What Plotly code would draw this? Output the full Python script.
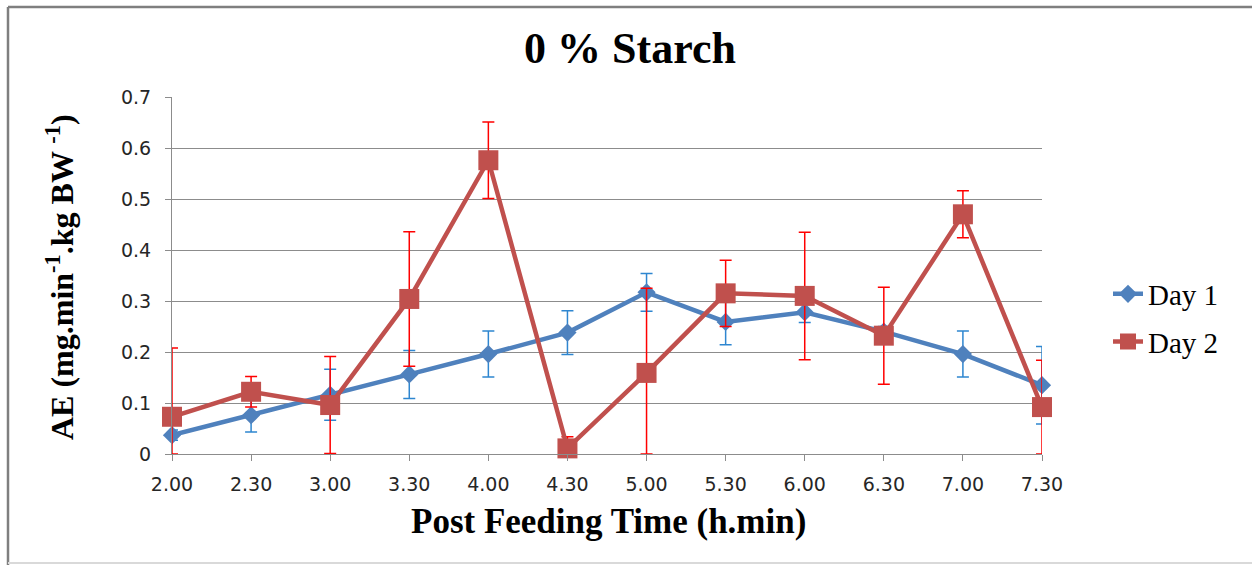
import plotly.graph_objects as go

categories = ["2.00", "2.30", "3.00", "3.30", "4.00", "4.30", "5.00", "5.30", "6.00", "6.30", "7.00", "7.30"]
day1 = [0.037, 0.076, 0.116, 0.156, 0.196, 0.238, 0.317, 0.259, 0.278, 0.240, 0.196, 0.135]
day1_err = [0.010, 0.033, 0.050, 0.047, 0.045, 0.043, 0.037, 0.045, 0.020, 0.010, 0.045, 0.076]
day2 = [0.073, 0.122, 0.096, 0.304, 0.576, 0.011, 0.159, 0.315, 0.310, 0.232, 0.470, 0.092]
day2_err_plus = [0.135, 0.030, 0.095, 0.132, 0.075, 0.023, 0.166, 0.065, 0.125, 0.095, 0.046, 0.092]
day2_err_minus = [0.073, 0.030, 0.095, 0.132, 0.075, 0.011, 0.159, 0.065, 0.125, 0.095, 0.046, 0.092]
y_ticks = [0, 0.1, 0.2, 0.3, 0.4, 0.5, 0.6, 0.7]
y_ticktext = ["0", "0.1", "0.2", "0.3", "0.4", "0.5", "0.6", "0.7"]

xpos = list(range(len(categories)))

fig = go.Figure()
fig.add_trace(go.Scatter(
    x=xpos, y=day1, name="Day 1", mode="lines+markers",
    line=dict(color="#4F81BD", width=4.5),
    marker=dict(symbol="diamond", size=14, color="#4F81BD"),
    error_y=dict(type="data", array=day1_err, color="#2E86D0", thickness=1.5, width=6),
    cliponaxis=False, legendgroup="a",
))
fig.add_trace(go.Scatter(
    x=xpos, y=day2, name="Day 2", mode="lines+markers",
    line=dict(color="#C0504D", width=4.5),
    marker=dict(symbol="square", size=20, color="#C0504D"),
    error_y=dict(type="data", symmetric=False, array=day2_err_plus, arrayminus=day2_err_minus,
                 color="#FF0000", thickness=1.5, width=6),
    cliponaxis=False, legendgroup="b",
))

serif = "Liberation Serif, Times New Roman, serif"
sans = "DejaVu Sans, sans-serif"

fig.update_layout(
    width=1252, height=565,
    margin=dict(l=172, r=210, t=97, b=111),
    paper_bgcolor="white", plot_bgcolor="white",
    title=dict(text="<b>0 % Starch</b>", x=(630 - 172) / 870, xref="paper", y=1 - 48 / 565, yanchor="middle",
               xanchor="center", font=dict(family=serif, size=44, color="black")),
    showlegend=True,
    legend=dict(x=(1108 - 172) / 870, xanchor="left", y=0.381, yanchor="middle",
                font=dict(family=serif, size=29, color="black"),
                tracegroupgap=7, bgcolor="rgba(0,0,0,0)"),
    xaxis=dict(
        range=[0, 11], tickmode="array", tickvals=xpos, ticktext=categories,
        showgrid=False, zeroline=False, showline=True, linecolor="#8C8C8C", linewidth=1,
        ticks="outside", ticklen=6, tickcolor="#8C8C8C",
        tickfont=dict(family=sans, size=19, color="#262626"), ticklabelstandoff=7,
    ),
    yaxis=dict(
        range=[0, 0.7], tickmode="array", tickvals=y_ticks, ticktext=y_ticktext,
        showgrid=True, gridcolor="#8C8C8C", gridwidth=1, zeroline=False,
        showline=True, linecolor="#8C8C8C", linewidth=1,
        ticks="outside", ticklen=6, tickcolor="#8C8C8C",
        tickfont=dict(family=sans, size=19, color="#262626"), ticklabelstandoff=10,
    ),
    annotations=[
        dict(text="<b>Post Feeding Time (h.min)</b>", xref="paper", yref="paper",
             x=(608 - 172) / 870, y=(454 - 521) / 357, xanchor="center", yanchor="middle",
             showarrow=False, font=dict(family=serif, size=35, color="black")),
        dict(text="<b>AE (mg.min<sup>-1</sup>.kg BW <sup>-1</sup>)</b>", xref="paper", yref="paper",
             x=(60 - 172) / 870, y=(454 - 277) / 357, xanchor="center", yanchor="middle",
             textangle=-90, showarrow=False, font=dict(family=serif, size=32, color="black")),
    ],
    shapes=[
        dict(type="line", xref="paper", yref="paper", x0=(8 - 172) / 870, x1=1.3,
             y0=(454 - 7) / 357, y1=(454 - 7) / 357, line=dict(color="#7F7F7F", width=2.5)),
        dict(type="line", xref="paper", yref="paper", x0=(8 - 172) / 870, x1=(8 - 172) / 870,
             y0=(454 - 7) / 357, y1=(454 - 565) / 357, line=dict(color="#7F7F7F", width=2.5)),
        dict(type="line", xref="paper", yref="paper", x0=(8 - 172) / 870, x1=1.3,
             y0=(454 - 563) / 357, y1=(454 - 563) / 357, line=dict(color="#D9D9D9", width=2)),
    ],
)

fig.write_html("out.html")
